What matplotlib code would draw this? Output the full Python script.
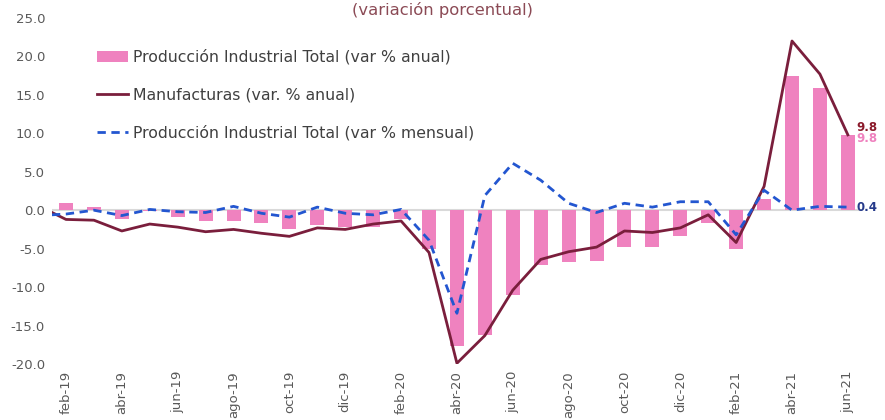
import numpy as np
import matplotlib.pyplot as plt

# meses (feb-19 .. jun-21)
meses = ["feb-19", "mar-19", "abr-19", "may-19", "jun-19", "jul-19", "ago-19", "sep-19",
         "oct-19", "nov-19", "dic-19", "ene-20", "feb-20", "mar-20", "abr-20", "may-20",
         "jun-20", "jul-20", "ago-20", "sep-20", "oct-20", "nov-20", "dic-20", "ene-21",
         "feb-21", "mar-21", "abr-21", "may-21", "jun-21"]

pi_anual = [1.0, 0.4, -1.1, -0.1, -0.9, -1.4, -1.4, -1.7, -2.4, -1.9, -2.2, -2.2, -1.2,
            -5.1, -17.7, -16.2, -11.0, -7.1, -6.7, -6.6, -4.8, -4.8, -3.3, -1.6, -5.0,
            1.4, 17.4, 15.9, 9.8]

# la serie arranca en ene-19 (queda recortada en el borde del eje)
manuf_anual = [0.6, -1.2, -1.3, -2.7, -1.8, -2.2, -2.8, -2.5, -3.0, -3.4, -2.3, -2.5, -1.8,
               -1.4, -5.5, -19.9, -16.3, -10.4, -6.4, -5.4, -4.8, -2.7, -2.9, -2.3, -0.6,
               -4.2, 3.1, 22.0, 17.7, 9.8]

pi_mensual = [-0.7, -0.5, 0.0, -0.7, 0.1, -0.2, -0.3, 0.5, -0.4, -0.9, 0.4, -0.4, -0.6,
              0.1, -3.9, -13.4, 1.9, 6.1, 3.9, 0.9, -0.3, 0.9, 0.4, 1.1, 1.1, -3.2, 2.6,
              0.0, 0.5, 0.4]

c_pink = "#EF82BF"
c_maroon = "#7A1E3C"
c_blue = "#2356D0"
c_grey = "#595959"

plt.rcParams['font.family'] = ['DejaVu Sans']

fig = plt.figure(figsize=(8.85, 4.2), dpi=100)
ax = fig.add_axes([0.0588, 0.1333, 0.915, 0.824])

x = np.arange(len(meses))
xl = np.arange(-1, len(meses))

ax.axhline(0, color="#D9D9D9", lw=1.5, zorder=1)
b = ax.bar(x, pi_anual, width=0.5, color=c_pink, zorder=2,
           label="Producción Industrial Total (var % anual)")
l1, = ax.plot(xl, manuf_anual, color=c_maroon, lw=2, zorder=3,
              label="Manufacturas (var. % anual)")
l2, = ax.plot(xl, pi_mensual, color=c_blue, lw=2, ls=(0, (3, 2)), zorder=4,
              label="Producción Industrial Total (var % mensual)")

ax.set_xlim(-0.5, len(meses) - 0.5)
ax.set_ylim(-20, 25)
ax.set_yticks(np.arange(-20, 26, 5))
ax.set_yticklabels([f"{v:.1f}" for v in np.arange(-20, 26, 5)], fontsize=9.5, color=c_grey)
ax.set_xticks(x[::2])
ax.set_xticklabels(meses[::2], rotation=90, fontsize=9.5, color=c_grey)
ax.tick_params(length=0, pad=5)
for s in ax.spines.values():
    s.set_visible(False)

# etiquetas finales
ax.text(len(meses) - 1 + 0.32, manuf_anual[-1] + 1.0, f"{manuf_anual[-1]:.1f}",
        color="#8B1A2B", fontsize=8.5, fontweight="bold", va="center", ha="left")
ax.text(len(meses) - 1 + 0.32, pi_anual[-1] - 0.5, f"{pi_anual[-1]:.1f}",
        color=c_pink, fontsize=8.5, fontweight="bold", va="center", ha="left")
ax.text(len(meses) - 1 + 0.32, pi_mensual[-1], f"{pi_mensual[-1]:.1f}",
        color="#253A8A", fontsize=8.5, fontweight="bold", va="center", ha="left")

ax.legend([b, l1, l2], [b.get_label(), l1.get_label(), l2.get_label()],
          loc="upper left", bbox_to_anchor=(0.038, 0.95), frameon=False, fontsize=11.3,
          handlelength=2.0, handletextpad=0.3, labelspacing=1.45, labelcolor="#404040")

fig.text(0.5, 0.975, "(variación porcentual)", ha="center", va="center",
         fontsize=11.8, color="#8B4A55")

fig.savefig("out.png", dpi=100)
